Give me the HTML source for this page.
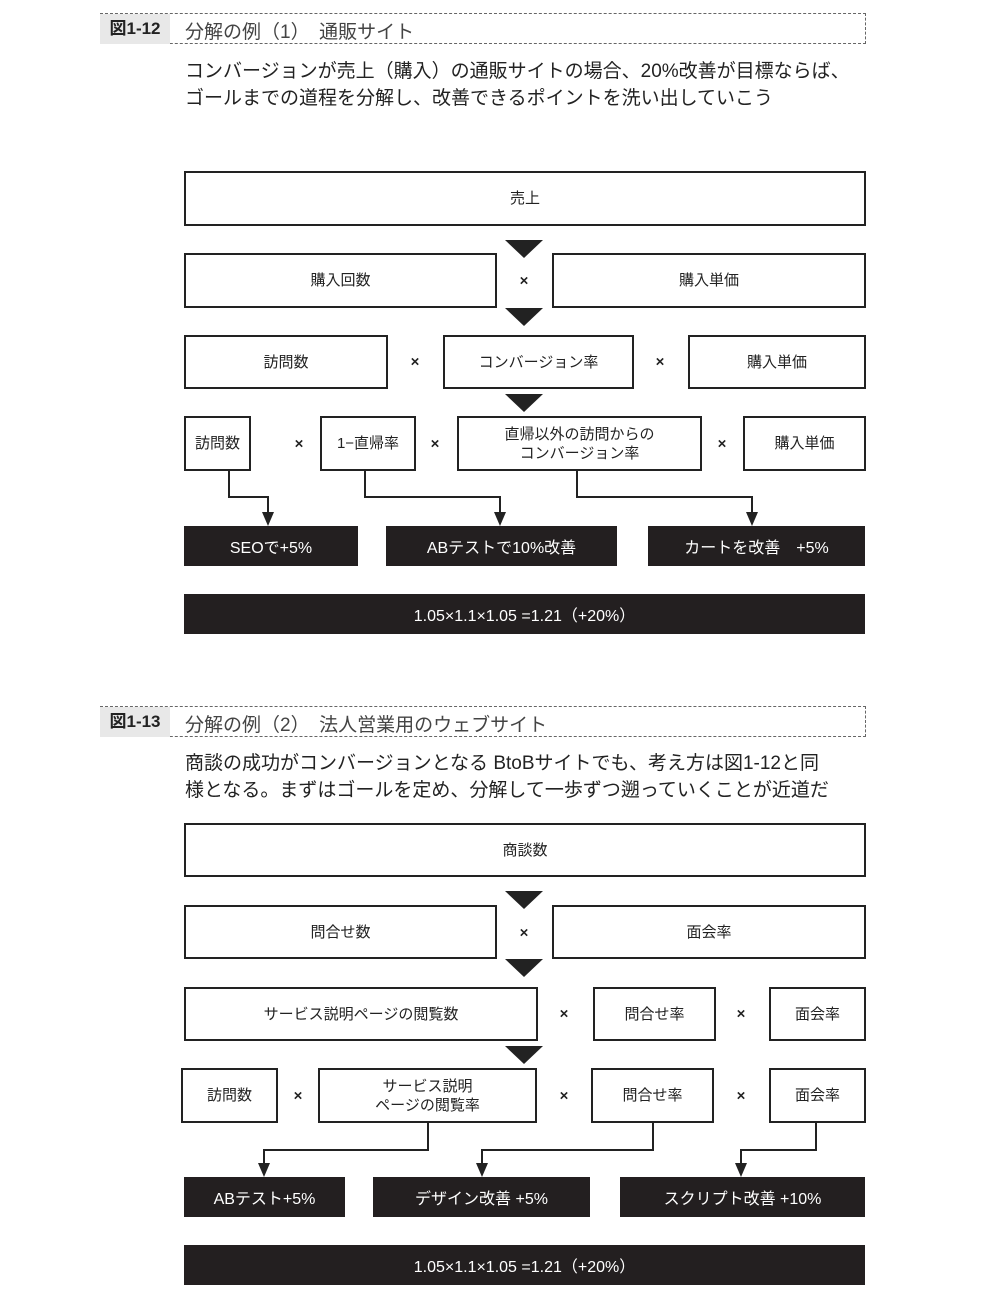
<!DOCTYPE html>
<html><head><meta charset="utf-8"><style>
body{margin:0;background:#fff;width:981px;height:1308px;position:relative;overflow:hidden;font-family:"Liberation Sans","Noto Sans CJK JP",sans-serif;color:#222}
.b{position:absolute;border:2px solid #222;box-sizing:border-box;display:flex;align-items:center;justify-content:center;text-align:center;font-size:15px;line-height:19px;background:#fff}
.d{position:absolute;background:#231f20;color:#fff;display:flex;align-items:center;justify-content:center;font-size:16px}
.x{position:absolute;font-size:15px;font-weight:bold;transform:translate(-50%,-50%)}
.h{position:absolute;left:100px;width:766px;height:31px;border:1px dashed #666;border-left:none;box-sizing:border-box;font-size:19px;color:#444}
.h .l{position:absolute;left:0;top:0;height:30px;width:70px;background:#e8e8e8;font-weight:bold;font-size:17px;line-height:30px;text-align:center;color:#222}
.h .t{position:absolute;left:85px;top:3px}
.p{position:absolute;left:185px;font-size:19px;line-height:27px;color:#222}
svg{position:absolute;left:0;top:0}
</style></head><body>
<div class="h" style="top:13px"><div class="l">図1-12</div><div class="t">分解の例（1）　通販サイト</div></div>
<div class="p" style="top:58px">コンバージョンが売上（購入）の通販サイトの場合、20%改善が目標ならば、<br>ゴールまでの道程を分解し、改善できるポイントを洗い出していこう</div>

<svg width="981" height="1308">
<g fill="#222">
<polygon points="505,240 543,240 524,258"/><polygon points="505,308 543,308 524,326"/><polygon points="505,394 543,394 524,412"/>
<polygon points="505,891 543,891 524,909"/><polygon points="505,959 543,959 524,977"/><polygon points="505,1046 543,1046 524,1064"/>
<polygon points="262,512 274,512 268,526"/><polygon points="494,512 506,512 500,526"/><polygon points="746,512 758,512 752,526"/>
<polygon points="258,1163 270,1163 264,1177"/><polygon points="476,1163 488,1163 482,1177"/><polygon points="735,1163 747,1163 741,1177"/>
</g>
<g fill="none" stroke="#222" stroke-width="2">
<polyline points="229,471 229,497 268,497 268,514"/><polyline points="365,471 365,497 500,497 500,514"/><polyline points="577,471 577,497 752,497 752,514"/>
<polyline points="428,1123 428,1150 264,1150 264,1165"/><polyline points="653,1123 653,1150 482,1150 482,1165"/><polyline points="816,1123 816,1150 741,1150 741,1165"/>
</g></svg>

<div class="b" style="left:184px;top:171px;width:682px;height:55px">売上</div>
<div class="b" style="left:184px;top:253px;width:313px;height:55px">購入回数</div><div class="x" style="left:524px;top:281px">×</div>
<div class="b" style="left:552px;top:253px;width:314px;height:55px">購入単価</div>
<div class="b" style="left:184px;top:335px;width:204px;height:54px">訪問数</div><div class="x" style="left:415px;top:362px">×</div>
<div class="b" style="left:443px;top:335px;width:191px;height:54px">コンバージョン率</div><div class="x" style="left:660px;top:362px">×</div>
<div class="b" style="left:688px;top:335px;width:178px;height:54px">購入単価</div>
<div class="b" style="left:184px;top:416px;width:67px;height:55px">訪問数</div><div class="x" style="left:299px;top:444px">×</div>
<div class="b" style="left:320px;top:416px;width:96px;height:55px">1−直帰率</div><div class="x" style="left:435px;top:444px">×</div>
<div class="b" style="left:457px;top:416px;width:245px;height:55px">直帰以外の訪問からの<br>コンバージョン率</div><div class="x" style="left:722px;top:444px">×</div>
<div class="b" style="left:743px;top:416px;width:123px;height:55px">購入単価</div>
<div class="d" style="left:184px;top:526px;width:174px;height:40px">SEOで+5%</div>
<div class="d" style="left:386px;top:526px;width:231px;height:40px">ABテストで10%改善</div>
<div class="d" style="left:648px;top:526px;width:217px;height:40px">カートを改善　+5%</div>
<div class="d" style="left:184px;top:594px;width:681px;height:40px">1.05×1.1×1.05 =1.21（+20%）</div>

<div class="h" style="top:706px"><div class="l">図1-13</div><div class="t">分解の例（2）　法人営業用のウェブサイト</div></div>
<div class="p" style="top:750px">商談の成功がコンバージョンとなる BtoBサイトでも、考え方は図1-12と同<br>様となる。まずはゴールを定め、分解して一歩ずつ遡っていくことが近道だ</div>

<div class="b" style="left:184px;top:823px;width:682px;height:54px">商談数</div>
<div class="b" style="left:184px;top:905px;width:313px;height:54px">問合せ数</div><div class="x" style="left:524px;top:933px">×</div>
<div class="b" style="left:552px;top:905px;width:314px;height:54px">面会率</div>
<div class="b" style="left:184px;top:987px;width:354px;height:54px">サービス説明ページの閲覧数</div><div class="x" style="left:564px;top:1014px">×</div>
<div class="b" style="left:593px;top:987px;width:123px;height:54px">問合せ率</div><div class="x" style="left:741px;top:1014px">×</div>
<div class="b" style="left:769px;top:987px;width:97px;height:54px">面会率</div>
<div class="b" style="left:181px;top:1068px;width:97px;height:55px">訪問数</div><div class="x" style="left:298px;top:1096px">×</div>
<div class="b" style="left:318px;top:1068px;width:219px;height:55px">サービス説明<br>ページの閲覧率</div><div class="x" style="left:564px;top:1096px">×</div>
<div class="b" style="left:591px;top:1068px;width:123px;height:55px">問合せ率</div><div class="x" style="left:741px;top:1096px">×</div>
<div class="b" style="left:769px;top:1068px;width:97px;height:55px">面会率</div>
<div class="d" style="left:184px;top:1177px;width:161px;height:40px">ABテスト+5%</div>
<div class="d" style="left:373px;top:1177px;width:217px;height:40px">デザイン改善 +5%</div>
<div class="d" style="left:620px;top:1177px;width:245px;height:40px">スクリプト改善 +10%</div>
<div class="d" style="left:184px;top:1245px;width:681px;height:40px">1.05×1.1×1.05 =1.21（+20%）</div>
</body></html>
